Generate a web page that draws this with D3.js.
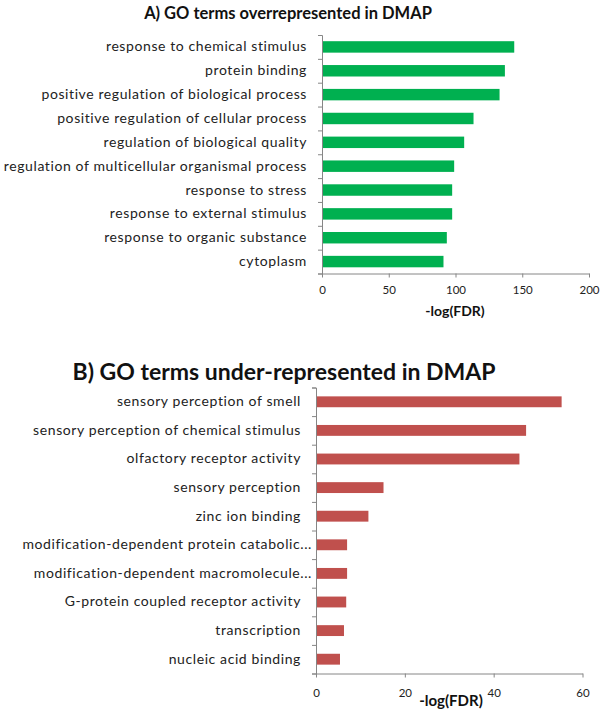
<!DOCTYPE html>
<html><head><meta charset="utf-8">
<script src="https://cdn.jsdelivr.net/npm/d3@7"></script>
<style>body{margin:0;background:#fff}svg{display:block}</style>
</head><body>
<svg id="c" width="600" height="710"></svg>
<script>
const catsA = ["response to chemical stimulus","protein binding","positive regulation of biological process","positive regulation of cellular process","regulation of biological quality","regulation of multicellular organismal process","response to stress","response to external stimulus","response to organic substance","cytoplasm"];
const valsA = [144,137,133,113.5,106.5,99,97.5,97.5,93.5,91];
const ticksA = [0,50,100,150,200];

const catsB = ["sensory perception of smell","sensory perception of chemical stimulus","olfactory receptor activity","sensory perception","zinc ion binding","modification-dependent protein catabolic...","modification-dependent macromolecule...","G-protein coupled receptor activity","transcription","nucleic acid binding"];
const valsB = [55.3,47.3,45.8,15.2,11.8,7.0,7.0,6.8,6.3,5.4];
const ticksB = [0,20,40,60];

const svg = d3.select("#c");
const FONT = "Lato, 'Open Sans', sans-serif";
const AX = "#868686";

function panel(o){
  const g = svg.append("g");
  const x = d3.scaleLinear().domain([0, o.ticks[o.ticks.length-1]]).range([o.x0, o.x1]);
  const y = d3.scaleBand().domain(o.cats).range([o.y0, o.y1]).paddingInner(o.pad).paddingOuter(o.pad/2);
  const yb = d3.scaleLinear().domain([0, o.cats.length]).range([o.y0, o.y1]);
  g.selectAll("rect").data(o.vals).join("rect")
    .attr("x", x(0)).attr("y", (d,i)=>y(o.cats[i]))
    .attr("width", d=>x(d)-x(0)).attr("height", y.bandwidth())
    .attr("fill", o.color);
  const ay = g.append("g").attr("transform",`translate(${x(0)},0)`)
    .call(d3.axisLeft(yb).tickValues(d3.range(o.cats.length+1)).tickSize(4).tickFormat(""));
  ay.selectAll("line,path").attr("stroke", AX);
  const al = g.append("g").attr("transform",`translate(${o.labX},0)`)
    .call(d3.axisLeft(y).tickSize(0).tickPadding(0));
  al.select(".domain").remove();
  al.selectAll("text").attr("font-family", FONT).attr("font-size", o.labSize).attr("fill","#222")
    .attr("letter-spacing", o.ls)
    .attr("dx", (d)=> d.endsWith("...") ? o.dotsShift : 0);
  const ax = g.append("g").attr("transform",`translate(0,${o.y1})`)
    .call(d3.axisBottom(x).tickValues(o.ticks).tickSize(4).tickSizeOuter(0).tickPadding(o.tickPad));
  ax.selectAll("line,path").attr("stroke", AX);
  ax.selectAll("text").attr("font-family", FONT).attr("font-size", 11.5).attr("fill","#222");
  g.append("text").attr("x", o.xtX).attr("y", o.xtY).attr("text-anchor","middle")
    .attr("font-family", FONT).attr("font-weight","bold").attr("font-size", o.xtSize).attr("fill","#111")
    .text("-log(FDR)");
  g.append("text").attr("x", o.tX).attr("y", o.tY).attr("text-anchor","middle")
    .attr("font-family", FONT).attr("font-weight","bold").attr("font-size", o.tSize).attr("fill","#111")
    .text(o.title);
}

panel({cats:catsA, vals:valsA, ticks:ticksA, x0:322, x1:589, y0:35, y1:273.5, pad:0.52,
  color:"#00B050", labX:307, labSize:14, ls:0.6, tickPad:8, xtX:455, xtY:316, xtSize:14,
  title:"A) GO terms overrepresented in DMAP", tX:288, tY:19, tSize:16.5, dotsShift:0});
panel({cats:catsB, vals:valsB, ticks:ticksB, x0:316, x1:582.5, y0:387.5, y1:673.5, pad:0.62,
  color:"#C0504D", labX:301, labSize:14, ls:0.6, tickPad:11, xtX:451, xtY:706, xtSize:15,
  title:"B) GO terms under-represented in DMAP", tX:284, tY:380, tSize:23, dotsShift:11});
</script>
</body></html>
